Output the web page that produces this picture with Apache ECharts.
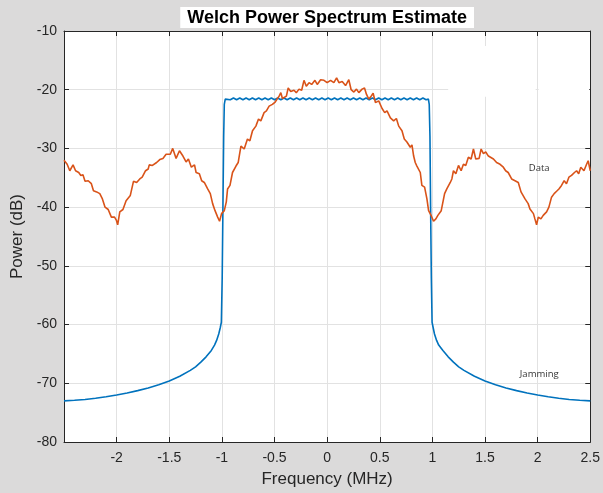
<!DOCTYPE html>
<html>
<head>
<meta charset="utf-8">
<script src="https://cdn.jsdelivr.net/npm/echarts@6/dist/echarts.min.js"></script>
<style>
html,body{margin:0;padding:0;background:#dbdada;}
#c{width:603px;height:493px;}
</style>
</head>
<body>
<div id="c"></div>
<script>
// ---- data ----
const titleText = 'Welch Power Spectrum Estimate';
const xName = 'Frequency (MHz)';
const yName = 'Power (dB)';
const xTicks = [-2.5,-2,-1.5,-1,-0.5,0,0.5,1,1.5,2,2.5];
const yTicks = [-80,-70,-60,-50,-40,-30,-20,-10];

// "Data" series (orange): [frequency MHz, power dB]
const dataSeries = [
[-2.5,-32.0],[-2.492,-32.3],[-2.47,-32.7],[-2.445,-33.8],[-2.414,-32.8],[-2.39,-33.8],[-2.36,-34.1],[-2.34,-34.6],
[-2.32,-34.5],[-2.30,-35.6],[-2.27,-35.5],[-2.24,-36.0],[-2.22,-37.2],[-2.19,-37.4],[-2.16,-37.7],[-2.135,-38.6],
[-2.11,-40.0],[-2.08,-40.4],[-2.05,-41.7],[-2.02,-41.7],[-2.003,-42.2],[-1.99,-43.0],[-1.97,-40.8],[-1.94,-40.4],
[-1.91,-38.9],[-1.87,-38.0],[-1.84,-35.6],[-1.81,-35.8],[-1.78,-35.2],[-1.757,-34.9],[-1.725,-33.8],[-1.70,-33.5],
[-1.69,-32.8],[-1.66,-32.9],[-1.62,-32.4],[-1.59,-31.9],[-1.56,-31.7],[-1.545,-31.4],[-1.53,-31.0],[-1.514,-30.7],
[-1.49,-31.0],[-1.467,-30.0],[-1.435,-31.7],[-1.403,-30.4],[-1.37,-31.3],[-1.34,-32.3],[-1.318,-31.8],[-1.29,-33.2],
[-1.26,-32.8],[-1.245,-34.1],[-1.214,-34.3],[-1.192,-35.5],[-1.167,-35.8],[-1.135,-36.9],[-1.11,-37.7],[-1.088,-39.4],
[-1.065,-40.6],[-1.04,-41.7],[-1.022,-42.4],[-1.003,-41.1],[-0.977,-40.6],[-0.958,-39.1],[-0.946,-36.9],[-0.94,-36.6],
[-0.923,-36.3],[-0.899,-34.1],[-0.866,-33.0],[-0.845,-32.4],[-0.835,-31.3],[-0.819,-29.6],[-0.788,-30.1],[-0.757,-28.4],
[-0.734,-28.7],[-0.709,-27.0],[-0.677,-26.2],[-0.652,-25.0],[-0.63,-25.3],[-0.599,-23.9],[-0.577,-23.6],[-0.551,-22.8],
[-0.52,-22.5],[-0.494,-22.1],[-0.456,-21.1],[-0.44,-20.5],[-0.425,-21.5],[-0.387,-21.1],[-0.37,-19.7],[-0.346,-20.3],
[-0.315,-20.1],[-0.293,-20.5],[-0.267,-19.9],[-0.242,-20.1],[-0.22,-18.4],[-0.198,-19.4],[-0.172,-18.8],[-0.147,-19.1],
[-0.116,-18.4],[-0.094,-19.1],[-0.062,-18.3],[-0.03,-18.4],[0.0,-18.8],[0.033,-18.4],[0.064,-18.8],[0.09,-18.0],
[0.112,-18.8],[0.143,-18.6],[0.175,-19.3],[0.206,-18.3],[0.228,-20.0],[0.254,-20.4],[0.279,-19.9],[0.301,-20.5],
[0.332,-19.9],[0.355,-19.7],[0.374,-20.8],[0.396,-21.6],[0.418,-21.1],[0.437,-20.6],[0.459,-22.2],[0.49,-21.9],
[0.522,-23.2],[0.547,-23.9],[0.569,-23.6],[0.601,-24.8],[0.632,-25.3],[0.658,-24.9],[0.68,-26.2],[0.711,-27.0],
[0.733,-28.4],[0.758,-28.9],[0.79,-29.8],[0.806,-29.4],[0.822,-31.3],[0.837,-32.4],[0.853,-33.0],[0.885,-34.1],
[0.9,-36.3],[0.926,-36.6],[0.948,-38.6],[0.964,-40.6],[0.98,-40.3],[0.99,-41.5],[1.011,-42.4],[1.033,-42.0],
[1.052,-41.4],[1.084,-40.6],[1.116,-37.7],[1.137,-36.9],[1.17,-35.8],[1.185,-35.2],[1.20,-33.8],[1.223,-34.3],
[1.248,-32.9],[1.273,-33.8],[1.295,-32.7],[1.317,-32.9],[1.342,-31.5],[1.368,-31.8],[1.39,-30.1],[1.412,-31.8],
[1.444,-31.7],[1.463,-30.1],[1.485,-30.9],[1.507,-30.6],[1.532,-31.3],[1.549,-31.5],[1.58,-31.8],[1.61,-32.4],
[1.643,-32.7],[1.674,-33.2],[1.696,-33.8],[1.72,-34.1],[1.753,-35.2],[1.785,-35.5],[1.816,-35.8],[1.842,-37.4],
[1.88,-38.6],[1.91,-39.4],[1.927,-40.3],[1.96,-41.1],[1.974,-42.0],[1.99,-43.0],[2.006,-41.7],[2.031,-42.0],
[2.053,-41.4],[2.085,-40.8],[2.107,-40.0],[2.132,-38.3],[2.157,-37.7],[2.18,-37.3],[2.202,-36.9],[2.227,-36.3],
[2.252,-35.5],[2.274,-36.0],[2.297,-34.9],[2.322,-34.6],[2.35,-34.1],[2.37,-33.8],[2.39,-34.3],[2.41,-33.2],
[2.44,-33.8],[2.465,-32.7],[2.48,-32.1],[2.5,-33.8]
];

// "Jamming" series (blue): [frequency MHz, power dB]
const jammingSeries = [
[-2.5,-73.0],[-2.4,-72.9],[-2.3,-72.75],[-2.2,-72.55],[-2.1,-72.3],[-2.0,-72.0],[-1.9,-71.65],[-1.8,-71.25],
[-1.7,-70.8],[-1.6,-70.25],[-1.5,-69.6],[-1.4,-68.8],[-1.3,-67.8],[-1.25,-67.2],[-1.2,-66.4],[-1.15,-65.5],
[-1.1,-64.4],[-1.07,-63.5],[-1.05,-62.7],[-1.03,-61.6],[-1.015,-60.5],[-1.005,-59.6],[-0.997,-52],[-0.99,-40],
[-0.983,-28],[-0.977,-22.5],[-0.968,-21.6],
[-0.95,-21.4],[-0.92,-21.7],[-0.89,-21.4],[-0.86,-21.7],[-0.83,-21.4],[-0.80,-21.7],[-0.77,-21.4],[-0.74,-21.7],
[-0.71,-21.4],[-0.68,-21.7],[-0.65,-21.4],[-0.62,-21.7],[-0.59,-21.4],[-0.56,-21.7],[-0.53,-21.4],[-0.50,-21.7],
[-0.47,-21.4],[-0.44,-21.7],[-0.41,-21.4],[-0.38,-21.7],[-0.35,-21.4],[-0.32,-21.7],[-0.29,-21.4],[-0.26,-21.7],
[-0.23,-21.4],[-0.20,-21.7],[-0.17,-21.4],[-0.14,-21.7],[-0.11,-21.4],[-0.08,-21.7],[-0.05,-21.4],[-0.02,-21.7],
[0.01,-21.4],[0.04,-21.7],[0.07,-21.4],[0.10,-21.7],[0.13,-21.4],[0.16,-21.7],[0.19,-21.4],[0.22,-21.7],
[0.25,-21.4],[0.28,-21.7],[0.31,-21.4],[0.34,-21.7],[0.37,-21.4],[0.40,-21.7],[0.43,-21.4],[0.46,-21.7],
[0.49,-21.4],[0.52,-21.7],[0.55,-21.4],[0.58,-21.7],[0.61,-21.4],[0.64,-21.7],[0.67,-21.4],[0.70,-21.7],
[0.73,-21.4],[0.76,-21.7],[0.79,-21.4],[0.82,-21.7],[0.85,-21.4],[0.88,-21.7],[0.91,-21.4],[0.94,-21.7],
[0.962,-21.6],[0.97,-22.5],[0.977,-28],[0.983,-40],[0.99,-52],[0.997,-59.6],[1.007,-60.5],[1.02,-61.6],
[1.04,-62.7],[1.06,-63.5],[1.1,-64.4],[1.15,-65.5],[1.2,-66.4],[1.25,-67.2],[1.3,-67.8],[1.4,-68.8],
[1.5,-69.6],[1.6,-70.25],[1.7,-70.8],[1.8,-71.25],[1.9,-71.65],[2.0,-72.0],[2.1,-72.3],[2.2,-72.55],
[2.3,-72.75],[2.4,-72.9],[2.5,-73.0]
];

// annotation anchors in data units
const dataLabel = {text:'Data', at:[2.015,-33.3]};
const jamLabel = {text:'Jamming', at:[2.015,-68.5]};

// ---- chart ----
const axisColor = '#262626';
const gridColor = '#e2e2e2';
const font = '"Liberation Sans", Arial, Helvetica, sans-serif';
const chart = echarts.init(document.getElementById('c'), null, {renderer:'canvas'});

const option = {
  backgroundColor:'#dbdada',
  animation:false,
  grid:{left:64, right:11, top:31, bottom:48, show:true, backgroundColor:'#ffffff', borderWidth:0},
  xAxis:[{
    type:'value', min:xTicks[0], max:xTicks[xTicks.length-1], interval:0.5,
    position:'bottom',
    axisLine:{show:true, onZero:false, lineStyle:{color:axisColor, width:1}},
    axisTick:{show:true, inside:true, length:5, lineStyle:{color:axisColor}},
    axisLabel:{color:axisColor, fontSize:14, margin:9, fontFamily:font,
      formatter:function(v){ return v===xTicks[0] ? '' : String(v); }},
    splitLine:{show:true, lineStyle:{color:gridColor, width:1}},
    name:xName, nameLocation:'middle', nameGap:29,
    nameTextStyle:{fontSize:17, color:axisColor, fontFamily:font}
  },{
    type:'value', min:xTicks[0], max:xTicks[xTicks.length-1], interval:0.5,
    position:'top',
    axisLine:{show:true, onZero:false, lineStyle:{color:axisColor, width:1}},
    axisTick:{show:true, inside:true, length:5, lineStyle:{color:axisColor}},
    axisLabel:{show:false}, splitLine:{show:false}
  }],
  yAxis:[{
    type:'value', min:yTicks[0], max:yTicks[yTicks.length-1], interval:10,
    position:'left',
    axisLine:{show:true, onZero:false, lineStyle:{color:axisColor, width:1}},
    axisTick:{show:true, inside:true, length:5, lineStyle:{color:axisColor}},
    axisLabel:{color:axisColor, fontSize:14, margin:7, fontFamily:font},
    splitLine:{show:true, lineStyle:{color:gridColor, width:1}},
    name:yName, nameLocation:'middle', nameGap:34,
    nameTextStyle:{fontSize:17, color:axisColor, fontFamily:font}
  },{
    type:'value', min:yTicks[0], max:yTicks[yTicks.length-1], interval:10,
    position:'right',
    axisLine:{show:true, onZero:false, lineStyle:{color:axisColor, width:1}},
    axisTick:{show:true, inside:true, length:5, lineStyle:{color:axisColor}},
    axisLabel:{show:false}, splitLine:{show:false}
  }],
  series:[
    {
      name:'Jamming', type:'line', data:jammingSeries, xAxisIndex:0, yAxisIndex:0,
      showSymbol:false, symbol:'none', smooth:false, z:3,
      lineStyle:{color:'#0072BD', width:1.6}
    },
    {
      name:'Data', type:'line', data:dataSeries, xAxisIndex:0, yAxisIndex:0,
      showSymbol:false, symbol:'none', smooth:false, z:4,
      lineStyle:{color:'#D95319', width:1.6}
    }
  ]
};
chart.setOption(option);

// annotations and title placed via the library's coordinate conversion
const pData = chart.convertToPixel({gridIndex:0}, dataLabel.at);
const pJam = chart.convertToPixel({gridIndex:0}, jamLabel.at);
const pL = chart.convertToPixel({xAxisIndex:0}, xTicks[0]);
const pR = chart.convertToPixel({xAxisIndex:0}, xTicks[xTicks.length-1]);
const pTop = chart.convertToPixel({yAxisIndex:0}, yTicks[yTicks.length-1]);
const pM20 = chart.convertToPixel({yAxisIndex:0}, -20);
const p15 = chart.convertToPixel({xAxisIndex:0}, 1.15);
const p2 = chart.convertToPixel({xAxisIndex:0}, 2);
const labelFont = '9.5px "Open Sans", "DejaVu Sans", sans-serif';
chart.setOption({
  graphic:[
    {type:'rect', z:1, shape:{x:p15, y:pTop+15, width:p2-p15-2, height:pM20-pTop-8}, style:{fill:'#ffffff'}},
    {type:'rect', z:1, shape:{x:p2+1, y:pTop+31, width:pR-p2-2, height:pM20-pTop-24}, style:{fill:'#ffffff'}},
    {type:'text', z:10, x:(pL+pR)/2, y:7, style:{text:titleText, align:'center', verticalAlign:'top',
      font:'bold 18px ' + font, fill:'#000', backgroundColor:'#ffffff', padding:[2,7,1,7]}},
    {type:'text', z:10, x:pData[0], y:pData[1], style:{text:dataLabel.text, align:'center', verticalAlign:'middle', font:labelFont, fill:'#333'}},
    {type:'text', z:10, x:pJam[0], y:pJam[1], style:{text:jamLabel.text, align:'center', verticalAlign:'middle', font:labelFont, fill:'#333'}}
  ]
});
</script>
</body>
</html>
